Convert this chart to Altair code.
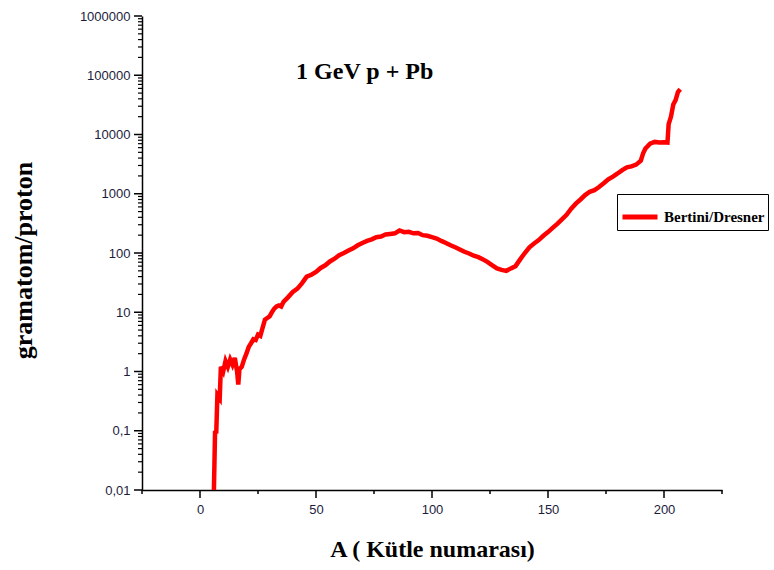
import altair as alt
import pandas as pd

# Mass number A and yield (gramatom/proton)
mass_A = [6, 6.5, 7, 7.5, 8.5, 9, 10, 11, 12, 13, 14, 15, 16, 16.5, 17, 18, 19, 20,
          21, 22, 23, 24, 25, 26, 27, 28, 29, 30, 31, 32, 33, 34, 35, 36, 38, 40,
          42, 44, 46, 48, 50, 52, 54, 56, 58, 60, 62, 64, 66, 68, 70, 72, 74, 76,
          78, 80, 82, 84, 86, 88, 90, 92, 94, 96, 98, 100, 102, 104, 106, 108, 110,
          112, 114, 116, 118, 120, 122, 124, 126, 128, 130, 132, 134, 136, 138, 140,
          142, 144, 146, 148, 150, 152, 154, 156, 158, 160, 162, 164, 166, 168, 170,
          172, 174, 176, 178, 180, 182, 184, 186, 188, 190, 191, 192, 194, 196, 198,
          200, 201.5, 202, 203, 204, 205, 206, 207]
yield_v = [0.01, 0.1, 0.09, 0.4, 0.35, 1.2, 1.0, 1.5, 1.2, 1.6, 1.3, 1.7, 1.0, 0.6, 1.1, 1.2, 1.6, 2.0,
           2.6, 3.0, 3.5, 3.4, 4.2, 4.0, 5.5, 7.5, 8.0, 8.5, 10, 11.5, 12.5, 13, 12.5, 15, 18, 22,
           25, 31, 40, 43, 48, 56, 62, 72, 80, 92, 100, 110, 120, 135, 148, 160, 170, 185,
           190, 205, 210, 215, 240, 225, 228, 215, 218, 200, 195, 185, 175, 160, 148, 135, 125,
           115, 105, 98, 90, 85, 78, 70, 62, 55, 52, 50, 55, 60, 78, 100,
           125, 145, 165, 195, 225, 265, 310, 370, 440, 560, 680, 800, 950, 1080, 1150,
           1300, 1500, 1750, 1950, 2200, 2500, 2800, 2900, 3100, 3600, 4800, 5800, 7000, 7500, 7300,
           7400, 7300, 15000, 20000, 32000, 38000, 52000, 58000]
series_name = "Bertini/Dresner"

annot_text = ["1 GeV p + Pb"]
annot_A = [71]
annot_v = [113000]

y_major = [0.01, 0.1, 1, 10, 100, 1000, 10000, 100000, 1000000]
y_minor = [float(f"{m}e{k}") for k in range(-2, 6) for m in range(2, 10)]
x_major = [0, 50, 100, 150, 200]
x_minor = [-25, 25, 75, 125, 175, 225]

df = pd.DataFrame({"A": mass_A, "v": yield_v, "s": [series_name] * len(mass_A)})
ann = pd.DataFrame({"A": annot_A, "v": annot_v, "t": annot_text})
ymaj_df = pd.DataFrame({"v": y_major})
ymin_df = pd.DataFrame({"v": y_minor})
xmaj_df = pd.DataFrame({"A": x_major})
xmin_df = pd.DataFrame({"A": x_minor})

PLOT_W, PLOT_H = 580, 474
MAJ, MIN = 8, 4

xscale = alt.Scale(domain=[-25, 225], nice=False, zero=False)
yscale = alt.Scale(type="log", domain=[0.01, 1000000], nice=False)

common_axis = dict(
    grid=False, ticks=False, domainColor="black", domainWidth=1.5,
    labelColor="#1c1c3c", labelFont="Liberation Sans", labelFontSize=13,
    labelOverlap=False, labelFlush=False,
    titleFont="Liberation Serif", titleFontWeight="bold", titleColor="black",
)

x_axis = alt.Axis(
    orient="bottom", values=x_major, labelPadding=5 + MAJ,
    title="A ( Kütle numarası)", titleFontSize=24,
    titleX=290, titleY=59, titleBaseline="middle", titleAlign="center",
    **common_axis,
)
y_axis = alt.Axis(
    orient="left", values=y_major, labelPadding=4 + MAJ,
    labelExpr="datum.value >= 1 ? format(datum.value, 'd') : replace(format(datum.value, '.2~f'), '.', ',')",
    title="gramatom/proton", titleFontSize=26,
    titleX=-119, titleY=244, titleBaseline="middle", titleAlign="center", titleAngle=-90,
    **common_axis,
)

X = lambda: alt.X("A:Q", scale=xscale, axis=x_axis)
Y = lambda: alt.Y("v:Q", scale=yscale, axis=y_axis)

line = alt.Chart(df).mark_line(strokeWidth=4.5, clip=True).encode(
    x=X(), y=Y(),
    color=alt.Color(
        "s:N",
        scale=alt.Scale(domain=[series_name], range=["#ff0000"]),
        legend=alt.Legend(
            orient="none", legendX=475, legendY=178, title=None,
            symbolType="stroke", symbolSize=1225, symbolStrokeWidth=5,
            strokeColor="black", fillColor="white", padding=3,
            labelFont="Liberation Serif", labelFontSize=15, labelFontWeight="bold",
            labelColor="black", labelOffset=4,
        ),
    ),
)

text = alt.Chart(ann).mark_text(
    font="Liberation Serif", fontSize=24, fontWeight="bold", color="black"
).encode(x=X(), y=Y(), text="t:N")

rule_style = dict(color="black", strokeWidth=1.5, opacity=1)
y_major_ticks = alt.Chart(ymaj_df).mark_rule(**rule_style).encode(
    y=Y(), x=alt.value(-MAJ), x2=alt.value(0))
y_minor_ticks = alt.Chart(ymin_df).mark_rule(strokeWidth=1.2, color="black").encode(
    y=Y(), x=alt.value(-MIN), x2=alt.value(0))
x_major_ticks = alt.Chart(xmaj_df).mark_rule(**rule_style).encode(
    x=X(), y=alt.value(PLOT_H), y2=alt.value(PLOT_H + MAJ))
x_minor_ticks = alt.Chart(xmin_df).mark_rule(**rule_style).encode(
    x=X(), y=alt.value(PLOT_H), y2=alt.value(PLOT_H + MIN))

chart = alt.layer(
    line, text, y_major_ticks, y_minor_ticks, x_major_ticks, x_minor_ticks
).properties(
    width=PLOT_W, height=PLOT_H,
    padding={"left": 142, "top": 16, "right": 52, "bottom": 80},
    autosize=alt.AutoSizeParams(type="none"),
    background="white",
).configure_view(stroke=None)

chart.save("out.html", embed_options={"renderer": "svg", "actions": False})
